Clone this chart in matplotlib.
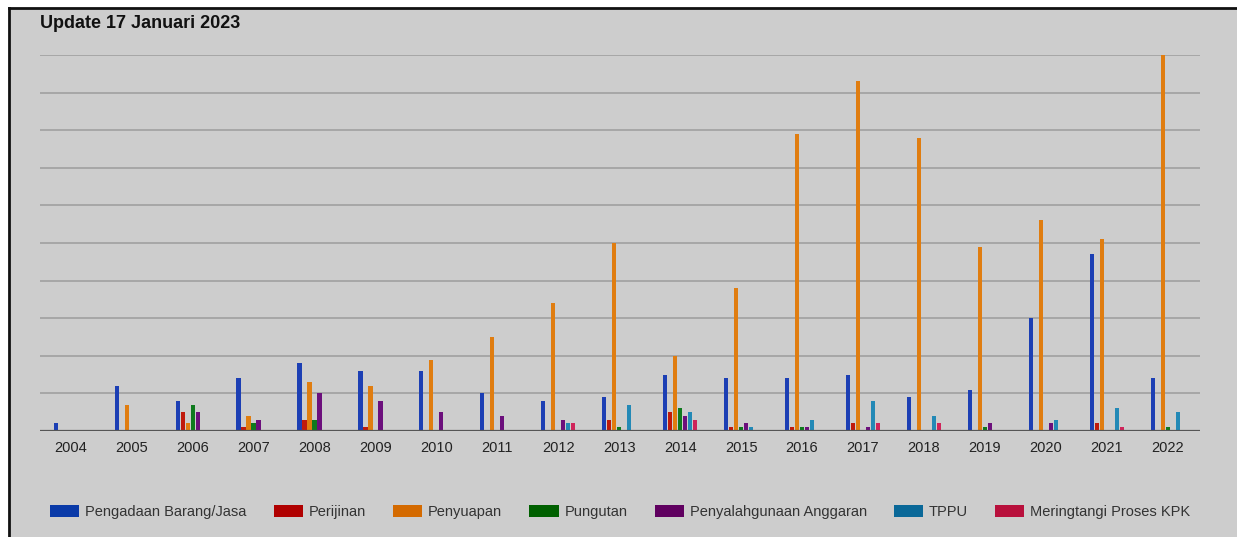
import numpy as np
import matplotlib.pyplot as plt
from matplotlib.patches import Rectangle, Patch
from matplotlib.lines import Line2D

plt.rcParams['font.family'] = ['Liberation Sans', 'DejaVu Sans']

years = ['2004', '2005', '2006', '2007', '2008', '2009', '2010', '2011', '2012', '2013',
         '2014', '2015', '2016', '2017', '2018', '2019', '2020', '2021', '2022']

pengadaan = [2, 12, 8, 14, 18, 16, 16, 10, 8, 9, 15, 14, 14, 15, 9, 11, 30, 47, 14]
perijinan = [0, 0, 5, 1, 3, 1, 0, 0, 0, 3, 5, 1, 1, 2, 0, 0, 0, 2, 0]
penyuapan = [0, 7, 2, 4, 13, 12, 19, 25, 34, 50, 20, 38, 79, 93, 78, 49, 56, 51, 100]
pungutan = [0, 0, 7, 2, 3, 0, 0, 0, 0, 1, 6, 1, 1, 0, 0, 1, 0, 0, 1]
penyalahgunaan = [0, 0, 5, 3, 10, 8, 5, 4, 3, 0, 4, 2, 1, 1, 0, 2, 2, 0, 0]
tppu = [0, 0, 0, 0, 0, 0, 0, 0, 2, 7, 5, 1, 3, 8, 4, 0, 3, 6, 5]
merintangi = [0, 0, 0, 0, 0, 0, 0, 0, 2, 0, 3, 0, 0, 2, 2, 0, 0, 1, 0]

labels = ['Pengadaan Barang/Jasa', 'Perijinan', 'Penyuapan', 'Pungutan',
          'Penyalahgunaan Anggaran', 'TPPU', 'Meringtangi Proses KPK']
series = [pengadaan, perijinan, penyuapan, pungutan, penyalahgunaan, tppu, merintangi]
bar_colors = ['#1c3fb4', '#c01a0c', '#e07d10', '#0f7a1e', '#6c0f7c', '#2389b6', '#d0245a']
key_colors = ['#0a3aa8', '#b00000', '#d46a00', '#006000', '#600060', '#0a6898', '#b8103c']

bg = '#cdcdcd'
W, H = 1237, 537
fig = plt.figure(figsize=(W / 100, H / 100), dpi=100)
fig.patch.set_facecolor('white')

# grey panel with dark frame on the left and top
fig.add_artist(Rectangle((9 / W, 0), 1, (H - 9) / H, transform=fig.transFigure,
                         facecolor=bg, edgecolor='none', zorder=0))
fig.add_artist(Line2D([9 / W, 9 / W], [0, (H - 8) / H], transform=fig.transFigure,
                      color='#111111', lw=2))
fig.add_artist(Line2D([9 / W, 1], [(H - 8) / H, (H - 8) / H], transform=fig.transFigure,
                      color='#111111', lw=2))

ax = fig.add_axes([40 / W, (H - 431) / H, 1160 / W, 376 / H])
ax.set_facecolor(bg)

x = np.arange(len(years))
step, width = 0.082, 0.068
for i, (vals, col) in enumerate(zip(series, bar_colors)):
    ax.bar(x + (i - 3) * step, vals, width, color=col, zorder=3)

ax.set_xlim(-0.504, 18.53)
ax.set_ylim(0, 100)
ax.set_yticks(np.arange(10, 101, 10))
ax.yaxis.grid(True, color='#a6a6a6', lw=1.4)
ax.set_axisbelow(True)
ax.axhline(0, color='#555555', lw=1.6, zorder=4)
ax.tick_params(axis='y', left=False, labelleft=False)
ax.tick_params(axis='x', length=0, pad=7, labelsize=10.5, labelcolor='#222222')
ax.set_xticks(x)
ax.set_xticklabels(years)
for s in ax.spines.values():
    s.set_visible(False)

fig.text(40 / W, (H - 24) / H, 'Update 17 Januari 2023', fontsize=13, fontweight='bold',
         color='#111111', va='center', ha='left')

handles = [Patch(facecolor=c, edgecolor='none') for c in key_colors]
fig.legend(handles, labels, loc='center left', bbox_to_anchor=(43 / W, (H - 512) / H),
           ncol=7, frameon=False, fontsize=10.5, handlelength=2.0, handleheight=0.8,
           handletextpad=0.4, columnspacing=1.86, labelcolor='#333333', borderpad=0)

fig.savefig('out.png', dpi=100, facecolor=fig.get_facecolor())
